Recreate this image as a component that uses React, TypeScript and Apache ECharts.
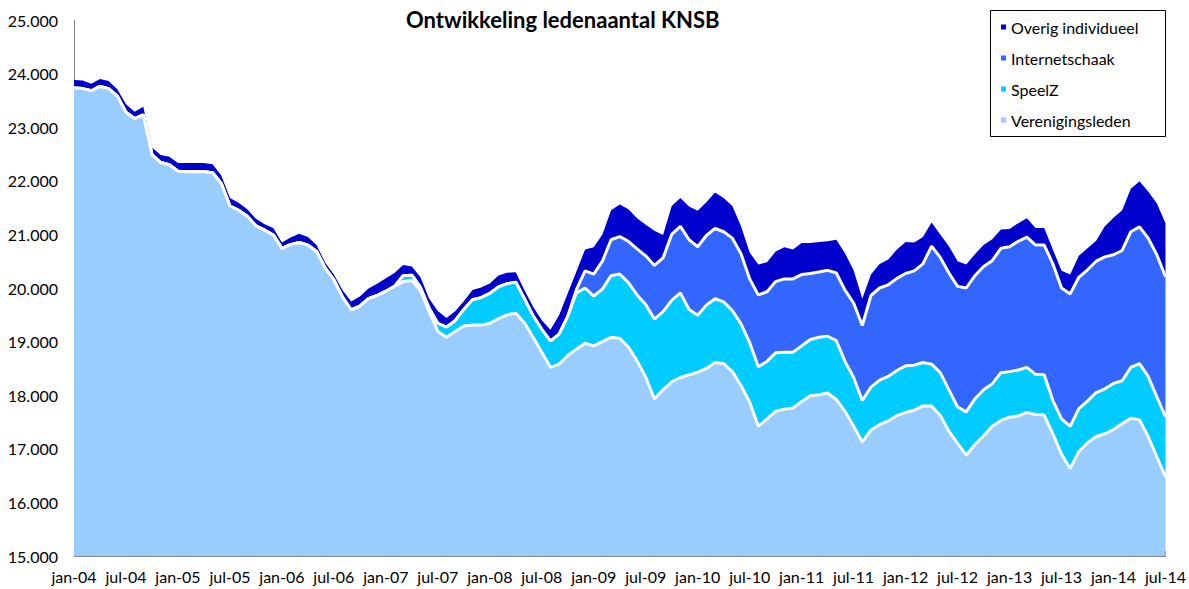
import React, { useEffect, useRef } from "react";
import * as echarts from "echarts";

const MONTH_NAMES = ["jan", "feb", "mrt", "apr", "mei", "jun", "jul", "aug", "sep", "okt", "nov", "dec"];
const FIRST_YEAR = 2004;
const N_MONTHS = 127; // jan-04 .. jul-14

const VERENIGINGSLEDEN = [
  23730, 23720, 23680, 23760, 23720, 23580, 23280, 23160, 23230, 22490, 22340, 22300, 22180, 22170, 22170, 22170,
  22150, 21950, 21530, 21450, 21340, 21160, 21080, 20990, 20740, 20810, 20850, 20800, 20680, 20370, 20150,
  19830, 19590, 19660, 19800, 19860, 19940, 20030,
  20120, 20140, 19950, 19560, 19190, 19080, 19190, 19290, 19310, 19310, 19340, 19430, 19500, 19530,
  19350, 19080, 18800, 18520, 18580, 18740,
  18860, 18970, 18920, 19000, 19080, 19060, 18900, 18640, 18340, 17930, 18100, 18250, 18330, 18380, 18430, 18500,
  18610, 18590, 18440, 18180, 17870, 17420, 17560, 17700, 17740, 17760, 17880, 17990, 18010, 18040, 17920, 17700,
  17420, 17130, 17350, 17450, 17520, 17620, 17680, 17720, 17800, 17800, 17620, 17330, 17100, 16880, 17080, 17240,
  17420, 17530, 17590, 17610, 17680, 17640, 17630, 17280, 16900, 16630, 16950, 17110, 17230, 17280, 17360, 17470,
  17570, 17540, 17230, 16850, 16480,
];

const SPEELZ = [
  0, 0, 0, 0, 0, 0, 0, 0, 0, 0, 0, 0, 0, 0, 0, 0, 0, 0, 0, 0, 0, 0, 0, 0, 0, 0, 0, 0, 0, 0, 0, 0, 0, 0, 0, 0, 0, 0,
  110, 100, 60, 60, 150, 190, 200, 310, 470, 510, 560, 590, 580, 580,
  450, 400, 430, 490, 560, 730,
  1050, 1030, 930, 980, 1150, 1200, 1200, 1230, 1350, 1490, 1460, 1520, 1580, 1220, 1060, 1180, 1190, 1150, 1140,
  1150, 1110, 1110, 1070, 1090, 1060, 1040, 1040, 1050, 1070, 1060, 1100, 930, 910, 770, 800, 830, 830, 840, 870,
  840, 810, 780, 800, 770, 680, 810, 850, 860, 790, 890, 850, 860, 840, 750, 750, 620, 660, 790, 800, 780, 820,
  840, 860, 800, 950, 1050, 1120, 1120, 1120,
];

const INTERNETSCHAAK = [
  0, 0, 0, 0, 0, 0, 0, 0, 0, 0, 0, 0, 0, 0, 0, 0, 0, 0, 0, 0, 0, 0, 0, 0, 0, 0, 0, 0, 0, 0, 0, 0, 0, 0, 0, 0, 0, 0,
  0, 0, 0, 0, 0, 0, 0, 0, 0, 0, 0, 0, 0, 0, 0, 0, 0, 0, 0, 0,
  60, 320, 410, 520, 670, 700, 770, 860, 910, 1000, 1000, 1230, 1240, 1300, 1280, 1300, 1310, 1310, 1350, 1310,
  1190, 1340, 1300, 1330, 1370, 1370, 1330, 1230, 1220, 1230, 1260, 1330, 1390, 1400, 1710, 1720, 1710, 1720, 1720,
  1760, 1840, 2200, 2150, 2180, 2250, 2310, 2300, 2300, 2300, 2320, 2330, 2400, 2430, 2410, 2420, 2550, 2440, 2470,
  2450, 2450, 2450, 2460, 2400, 2430, 2530, 2550, 2580, 2650, 2610,
];

const OVERIG_INDIVIDUEEL = [
  150, 150, 130, 140, 140, 130, 150, 130, 150, 130, 140, 150, 150, 160, 160, 160, 160, 150, 150, 140, 130, 130, 110,
  130, 110, 130, 160, 150, 120, 100, 100,
  130, 160, 180, 190, 220, 240, 250,
  200, 160, 190, 180, 230, 170, 175, 155, 185, 190, 185, 215, 205, 185,
  160, 170, 170, 210, 350, 430,
  340, 400, 500, 500, 550, 600, 600, 570, 580, 650, 430, 530, 530, 620, 670, 620, 670, 630, 600, 510, 490, 570, 550,
  560, 590, 550, 590, 570, 560, 540, 620, 690, 610, 500, 390, 450, 470, 540, 590, 530, 500, 440, 430, 500, 470, 440,
  400, 400, 400, 350, 330, 340, 350, 320, 320, 270, 320, 360, 400, 400, 380, 570, 690, 750, 800, 850, 870, 960, 1000,
];

const CATEGORIES: string[] = [];
for (let i = 0; i < N_MONTHS; i++) {
  const y = FIRST_YEAR + Math.floor(i / 12);
  CATEGORIES.push(`${MONTH_NAMES[i % 12]}-${String(y % 100).padStart(2, "0")}`);
}

const SERIES_DEF = [
  { name: "Verenigingsleden", data: VERENIGINGSLEDEN, color: "#99CCFF", z: 6, line: 3 },
  { name: "SpeelZ", data: SPEELZ, color: "#00CCFF", z: 5, line: 3 },
  { name: "Internetschaak", data: INTERNETSCHAAK, color: "#3366FF", z: 4, line: 3 },
  { name: "Overig individueel", data: OVERIG_INDIVIDUEEL, color: "#0000CC", z: 3, line: 0 },
];

const LEGEND_ORDER = ["Overig individueel", "Internetschaak", "SpeelZ", "Verenigingsleden"];

const FONT = "Lato, 'Open Sans', sans-serif";

function fmt(v: number): string {
  const k = Math.floor(v / 1000);
  const r = v % 1000;
  return `${k}.${String(r).padStart(3, "0")}`;
}

export default function App() {
  const ref = useRef<HTMLDivElement>(null);
  useEffect(() => {
    document.body.style.margin = "0";
    if (!ref.current) return;
    const chart = echarts.init(ref.current, undefined, { renderer: "svg" });
    chart.setOption({
      animation: false,
      backgroundColor: "#ffffff",
      title: {
        text: "Ontwikkeling ledenaantal KNSB",
        left: 406,
        top: 8,
        padding: 0,
        textStyle: { fontFamily: FONT, fontSize: 22, fontWeight: "bold", color: "#000" },
      },
      legend: {
        orient: "vertical",
        left: 1001,
        top: 19,
        padding: 0,
        itemGap: 15,
        itemWidth: 5,
        itemHeight: 5,
        icon: "rect",
        textStyle: { fontFamily: FONT, fontSize: 16, color: "#000", lineHeight: 16 },
        data: LEGEND_ORDER.map((n) => {
          const d = SERIES_DEF.find((s) => s.name === n)!;
          return { name: n, icon: "rect", itemStyle: { color: d.color, borderWidth: 0 } };
        }),
        itemStyle: { borderWidth: 0 },
        lineStyle: { width: 0 },
      },
      graphic: [
        {
          type: "rect",
          shape: { x: 990.5, y: 10.5, width: 175, height: 126 },
          style: { fill: "none", stroke: "#000", lineWidth: 1 },
          z: 10,
        },
      ],
      grid: { left: 74, right: 21, top: 20, bottom: 33 },
      xAxis: {
        type: "category",
        data: CATEGORIES,
        boundaryGap: false,
        axisLine: { lineStyle: { color: "#868686", width: 1 } },
        axisTick: { show: true, inside: true, length: 5, interval: 5, lineStyle: { color: "#868686" } },
        axisLabel: { interval: 5, margin: 12, fontFamily: FONT, fontSize: 16, color: "#000" },
        splitLine: { show: false },
      },
      yAxis: {
        type: "value",
        min: 15000,
        max: 25000,
        interval: 1000,
        axisLine: { show: true, lineStyle: { color: "#868686", width: 1 } },
        axisTick: { show: false },
        axisLabel: { margin: 16, fontFamily: FONT, fontSize: 16, color: "#000", formatter: (v: number) => fmt(v) },
        splitLine: { show: false },
      },
      series: SERIES_DEF.map((s) => ({
        name: s.name,
        type: "line",
        stack: "total",
        data: s.data,
        z: s.z,
        showSymbol: false,
        symbol: "none",
        color: s.color,
        itemStyle: { color: s.color },
        lineStyle: { color: "#ffffff", width: s.line, opacity: s.line > 0 ? 1 : 0 },
        areaStyle: { color: s.color, opacity: 1 },
        emphasis: { disabled: true },
      })),
    });
    return () => chart.dispose();
  }, []);
  return <div ref={ref} style={{ width: 1189, height: 589 }} />;
}
